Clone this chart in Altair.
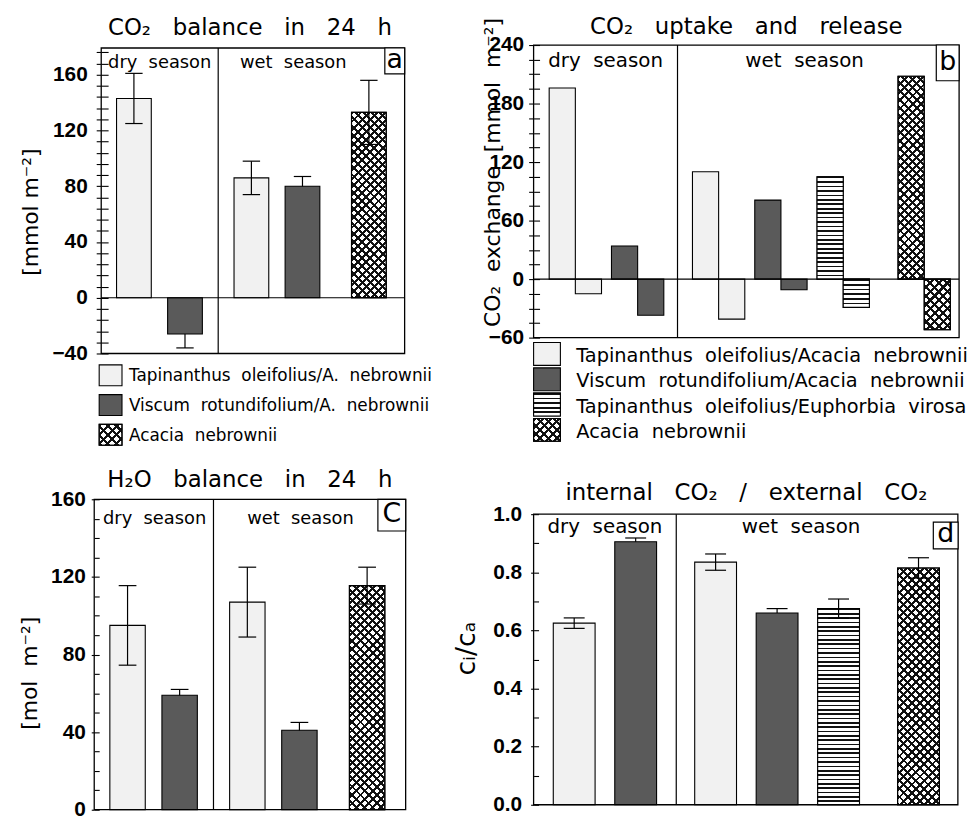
import math
import altair as alt
import pandas as pd

NB = "\u00a0"


def wide(s, n=2):
    return s.replace(" ", NB * n)


# ---------------- data ----------------
SPECIES = ["Tap", "Vis", "Eup", "Aca"]
FILLS = ["#f1f1f1", "#5a5a5a", "#ffffff", "#ffffff"]

LEGEND_A = ["Tapinanthus oleifolius/A. nebrownii",
            "Viscum rotundifolium/A. nebrownii",
            "Acacia nebrownii"]
LEGEND_A_KEYS = ["Tap", "Vis", "Aca"]
LEGEND_B = ["Tapinanthus oleifolius/Acacia nebrownii",
            "Viscum rotundifolium/Acacia nebrownii",
            "Tapinanthus oleifolius/Euphorbia virosa",
            "Acacia nebrownii"]
LEGEND_B_KEYS = ["Tap", "Vis", "Eup", "Aca"]
SEASON_LABELS = ["dry season", "wet season"]

# (a) CO2 balance in 24 h  [mmol m-2]
A_SEASON = ["dry", "dry", "wet", "wet", "wet"]
A_SPECIES = ["Tap", "Vis", "Tap", "Vis", "Aca"]
A_MEAN = [143, -26, 86, 80, 133]
A_ERR = [18, 10, 12, 7, 23]

# (b) CO2 uptake and release [mmol m-2]
B_SEASON = ["dry", "dry", "wet", "wet", "wet", "wet"]
B_SPECIES = ["Tap", "Vis", "Tap", "Vis", "Eup", "Aca"]
B_UPTAKE = [196, 34, 110, 81, 105, 208]
B_RELEASE = [-15, -37, -41, -11, -29, -52]

# (c) H2O balance in 24 h [mol m-2]
C_SEASON = ["dry", "dry", "wet", "wet", "wet"]
C_SPECIES = ["Tap", "Vis", "Tap", "Vis", "Aca"]
C_MEAN = [95, 59, 107, 41, 115.5]
C_ERR = [20.5, 3, 18, 4, 9.5]

# (d) internal CO2 / external CO2
D_SEASON = ["dry", "dry", "wet", "wet", "wet", "wet"]
D_SPECIES = ["Tap", "Vis", "Tap", "Vis", "Eup", "Aca"]
D_MEAN = [0.625, 0.905, 0.835, 0.66, 0.675, 0.815]
D_ERR = [0.018, 0.013, 0.028, 0.015, 0.033, 0.035]

# ---------------- layout / style constants ----------------
SEASON_GAP = 0.3
ACACIA_GAP = 0.3
FONT = "DejaVu Sans"
NUMFONT = "Liberation Sans"
STRIPE_PERIOD = 4.4      # px, horizontal stripes
HATCH_PERIOD = 5.8       # px, cross hatch
FILL_OF = dict(zip(SPECIES, FILLS))


def slots(seasons, species):
    out, pos, prev = [], -1.0, None
    for s, sp in zip(seasons, species):
        pos += 1
        if prev is not None and s != prev:
            pos += SEASON_GAP
        if sp == "Aca":
            pos += ACACIA_GAP
        out.append(pos)
        prev = s
    return out


def frange(a, b, step):
    out, v = [], a
    while v <= b + 1e-9:
        out.append(round(v, 6))
        v += step
    return out


# ---------------- hatch patterns as gradients ----------------
def stops(n, frac, ink, paper):
    out = []
    for i in range(n):
        a, b, c = i / n, (i + frac) / n, (i + 1) / n
        out += [{"offset": round(a, 5), "color": ink}, {"offset": round(b, 5), "color": ink},
                {"offset": round(b, 5), "color": paper}, {"offset": round(c, 5), "color": paper}]
    return out


def hstripes(h):
    n = max(1, int(round(h / STRIPE_PERIOD)))
    return {"gradient": "linear", "x1": 0, "y1": 0, "x2": 0, "y2": 1,
            "stops": stops(n, 0.38, "#111111", "#ffffff")}


def diag(w, h, which):
    c = (w + h) / (w * w + h * h)
    n = max(1, int(round((w + h) / math.sqrt(2) / HATCH_PERIOD)))
    st = stops(n, 0.36, "#111111", "rgba(255,255,255,0)")
    if which == 1:
        return {"gradient": "linear", "x1": 0, "y1": 0, "x2": round(c * w, 5),
                "y2": round(c * h, 5), "stops": st}
    return {"gradient": "linear", "x1": 0, "y1": 1, "x2": round(c * w, 5),
            "y2": round(1 - c * h, 5), "stops": st}


def pattern_layers(base, enc, kind, w, h):
    if kind == "Eup":
        return [base.mark_rect(fill=hstripes(h), stroke="black", strokeWidth=1.1).encode(**enc)]
    if kind == "Aca":
        return [base.mark_rect(fill=diag(w, h, 1), strokeOpacity=0).encode(**enc),
                base.mark_rect(fill=diag(w, h, 2), stroke="black", strokeWidth=1.1).encode(**enc)]
    return []


# ---------------- axes ----------------
def main_axis(values, major, title, tick, pad, tx, ty, offset=0, fmt=None, tfs=22):
    kw = {}
    if fmt:
        kw["format"] = fmt
    return alt.Axis(orient="left", values=values, offset=offset,
                    labelExpr=f"abs(datum.value / {major} - round(datum.value / {major})) < 1e-6 ? datum.label : ''",
                    tickSize=tick, tickColor="black", tickWidth=1.1,
                    labelPadding=pad, labelFont=NUMFONT, labelFontWeight="bold",
                    labelFontSize=21, labelColor="black", labelFlush=False,
                    labelOverlap=False, domain=False, grid=False,
                    title=title, titleFont=FONT, titleFontSize=tfs,
                    titleFontWeight="normal", titleColor="black",
                    titleX=tx, titleY=ty, titleAlign="center", titleBaseline="middle",
                    titleAngle=270, **kw)


def inner_axis(values, pos, tick):
    # right-oriented axis pulled back onto the left frame line -> inward ticks
    return alt.Axis(orient="right", offset=pos, values=values, labels=False,
                    tickSize=tick, tickColor="black", tickWidth=1.1,
                    domain=False, grid=False, title=None)


def scales(spec):
    ys = alt.Scale(domain=spec["ydom"], nice=False, zero=False)
    xs = alt.Scale(domain=spec["xdom"], nice=False, zero=False)

    def X(f):
        return alt.X(f, type="quantitative", scale=xs, axis=None)

    def Y(f, axis=None):
        return alt.Y(f, type="quantitative", scale=ys, axis=axis)
    ppx = spec["W"] / (spec["xdom"][1] - spec["xdom"][0])
    ppy = spec["H"] / (spec["ydom"][1] - spec["ydom"][0])
    return X, Y, ppx, ppy


def fill_enc():
    return alt.Fill("species:N", scale=alt.Scale(domain=SPECIES, range=FILLS), legend=None)


def decorations(spec, X, Y):
    layers = []
    fx0, fx1, fy0, fy1 = spec["frame"]
    frame = alt.Chart(pd.DataFrame({"x0": [fx0], "x1": [fx1], "y0": [fy0], "y1": [fy1]})).mark_rect(
        fillOpacity=0, stroke="black", strokeWidth=1.3).encode(
        x=X("x0"), x2="x1", y=Y("y0"), y2="y1")
    div = alt.Chart(pd.DataFrame({"d": [spec["div"]], "y0": [fy0], "y1": [fy1]})).mark_rule(
        color="black", strokeWidth=1.2).encode(x=X("d"), y=Y("y0"), y2="y1")
    layers += [frame, div]
    seas = alt.Chart(pd.DataFrame({"t": [wide(s) for s in SEASON_LABELS],
                                   "x": [spec["dry_x"], spec["wet_x"]]})).mark_text(
        font=FONT, fontSize=spec["season_fs"], baseline="middle", align="center",
        color="black").encode(x=X("x"), y=alt.value(spec["season_y"]), text="t:N")
    layers.append(seas)
    bx0, bx1, by0, by1 = spec["box"]
    letter = pd.DataFrame({"t": [spec["letter"]]})
    box = alt.Chart(letter).mark_rect(fill="white", stroke="black", strokeWidth=1.2).encode(
        x=alt.value(bx0), x2=alt.value(bx1), y=alt.value(by0), y2=alt.value(by1))
    txt = alt.Chart(letter).mark_text(font=FONT, fontSize=27, baseline="middle",
                                      align="center", color="black", dy=-1).encode(
        x=alt.value((bx0 + bx1) / 2), y=alt.value((by0 + by1) / 2), text="t:N")
    layers += [box, txt]
    if spec.get("legend"):
        layers += legend_layers(*spec["legend"])
    return layers


def legend_layers(keys, labels, x0, sw, sh, top, step, tx, fs, tdy):
    rows = []
    for i, (k, l) in enumerate(zip(keys, labels)):
        yc = top + i * step
        rows.append({"species": k, "label": wide(l), "y0": yc - sh / 2, "y1": yc + sh / 2,
                     "yt": yc + tdy})
    df = pd.DataFrame(rows)
    base = alt.Chart(df)
    enc = dict(x=alt.value(x0), x2=alt.value(x0 + sw),
               y=alt.Y("y0:Q", scale=None, axis=None), y2="y1")
    out = [base.mark_rect(stroke="black", strokeWidth=1.1).encode(fill=fill_enc(), **enc)]
    for k in keys:
        out += pattern_layers(base.transform_filter(alt.datum.species == k), enc, k, sw, sh)
    out.append(base.mark_text(font=FONT, fontSize=fs, align="left", baseline="middle",
                              color="black").encode(
        x=alt.value(tx), y=alt.Y("yt:Q", scale=None, axis=None), text="label:N"))
    return out


def title_params(text, offset):
    return alt.TitleParams(text=text, font=FONT, fontSize=23, fontWeight="normal",
                           color="black", offset=offset, anchor="middle")


def bar_panel(seasons, species, values, errs, spec, half=0.34, cap=0.17):
    rows = []
    for s, sp, x, v, e in zip(seasons, species, slots(seasons, species), values, errs):
        rows.append({"season": s, "species": sp, "slot": x,
                     "x0": x - half, "x1": x + half, "value": v,
                     "lo": v - e, "hi": v + e, "c0": x - cap, "c1": x + cap})
    df = pd.DataFrame(rows)
    X, Y, ppx, ppy = scales(spec)
    base = alt.Chart(df)
    light = base.transform_filter(alt.datum.species != "Vis").mark_bar(
        stroke="black", strokeWidth=1.1).encode(
        x=X("x0"), x2="x1", y=Y("value", spec["axis"]), y2=alt.Y2Datum(0), fill=fill_enc())
    layers = [light]
    enc = dict(x=X("x0"), x2="x1", y=Y("value"), y2=alt.Y2Datum(0))
    for r in rows:
        sel = base.transform_filter((alt.datum.season == r["season"]) & (alt.datum.species == r["species"]))
        layers += pattern_layers(sel, enc, r["species"], 2 * half * ppx, abs(r["value"]) * ppy)
    err = base.mark_rule(color="black", strokeWidth=1.2).encode(x=X("slot"), y=Y("lo"), y2="hi")
    capt = base.mark_rule(color="black", strokeWidth=1.2).encode(x=X("c0"), x2="c1", y=Y("hi"))
    capb = base.mark_rule(color="black", strokeWidth=1.2).encode(x=X("c0"), x2="c1", y=Y("lo"))
    dark = base.transform_filter(alt.datum.species == "Vis").mark_bar(
        stroke="black", strokeWidth=1.1).encode(
        x=X("x0"), x2="x1", y=Y("value"), y2=alt.Y2Datum(0), fill=fill_enc())
    inward = base.mark_point(opacity=0).encode(x=X("slot"), y=Y("value", spec["inner"]))
    layers += [err, capt, capb, dark, inward]
    if spec.get("zero"):
        fx0, fx1 = spec["frame"][0], spec["frame"][1]
        layers.append(alt.Chart(pd.DataFrame({"z": [0], "x0": [fx0], "x1": [fx1]})).mark_rule(
            color="black", strokeWidth=1.1).encode(y=Y("z"), x=X("x0"), x2="x1"))
    layers += decorations(spec, X, Y)
    return alt.layer(*layers).resolve_axis(y="independent").properties(
        width=spec["W"], height=spec["H"], title=title_params(spec["title"], spec["toff"]))


def pair_panel(seasons, species, up, rel, spec, half=0.42):
    rows = []
    for s, sp, x, u, r in zip(seasons, species, slots(seasons, species), up, rel):
        rows.append({"season": s, "species": sp, "slot": x,
                     "ux0": x - half, "ux1": x, "rx0": x, "rx1": x + half,
                     "up": u, "rel": r})
    df = pd.DataFrame(rows)
    X, Y, ppx, ppy = scales(spec)
    base = alt.Chart(df)
    upb = base.mark_bar(stroke="black", strokeWidth=1.1).encode(
        x=X("ux0"), x2="ux1", y=Y("up", spec["axis"]), y2=alt.Y2Datum(0), fill=fill_enc())
    relb = base.mark_bar(stroke="black", strokeWidth=1.1).encode(
        x=X("rx0"), x2="rx1", y=Y("rel"), y2=alt.Y2Datum(0), fill=fill_enc())
    layers = [upb, relb]
    enc_u = dict(x=X("ux0"), x2="ux1", y=Y("up"), y2=alt.Y2Datum(0))
    enc_r = dict(x=X("rx0"), x2="rx1", y=Y("rel"), y2=alt.Y2Datum(0))
    for r in rows:
        sel = base.transform_filter((alt.datum.season == r["season"]) & (alt.datum.species == r["species"]))
        layers += pattern_layers(sel, enc_u, r["species"], half * ppx, abs(r["up"]) * ppy)
        layers += pattern_layers(sel, enc_r, r["species"], half * ppx, abs(r["rel"]) * ppy)
    inward = base.mark_point(opacity=0).encode(x=X("slot"), y=Y("up", spec["inner"]))
    fx0, fx1 = spec["frame"][0], spec["frame"][1]
    zero = alt.Chart(pd.DataFrame({"z": [0], "x0": [fx0], "x1": [fx1]})).mark_rule(
        color="black", strokeWidth=1.1).encode(y=Y("z"), x=X("x0"), x2="x1")
    layers += [inward, zero] + decorations(spec, X, Y)
    return alt.layer(*layers).resolve_axis(y="independent").properties(
        width=spec["W"], height=spec["H"], title=title_params(spec["title"], spec["toff"]))


# ---------- panel a ----------  (plot area 92..406 x 42..353, frame from x=99, y=45)
a_ticks = frange(-40, 176, 8)
spec_a = dict(W=314, H=311, ydom=[-40, 181.33], xdom=[-0.777, 5.32],
              frame=(-0.64, 5.30, -40, 179.2), div=1.65,
              dry_x=0.505, wet_x=3.12, season_y=18, season_fs=18,
              box=(293, 313, 3, 29), letter="a", toff=2,
              title=wide("CO₂ balance in 24 h", 3),
              legend=(LEGEND_A_KEYS, LEGEND_A, 5, 23, 21, 333, 30, 35, 17, 1),
              axis=main_axis(a_ticks, 40, wide("[mmol m⁻²]", 1), 5, 9, -71, 168, offset=-7),
              inner=inner_axis(a_ticks, 7 - 314, 7), zero=True)
chart_a = bar_panel(A_SEASON, A_SPECIES, A_MEAN, A_ERR, spec_a)

# ---------- panel b ----------  (plot area 535..964 x 42..337)
b_ticks = frange(-60, 240, 15)
spec_b = dict(W=429, H=295, ydom=[-60, 240], xdom=[-0.67, 6.16],
              frame=(-0.67, 6.16, -60, 240), div=1.64,
              dry_x=0.485, wet_x=3.68, season_y=16, season_fs=20,
              box=(406, 429, 0, 36), letter="b", toff=-22,
              title=wide("CO₂ uptake and release", 3),
              legend=(LEGEND_B_KEYS, LEGEND_B, 0, 27, 23, 311.5, 25.5, 43, 19.5, 2),
              axis=main_axis(b_ticks, 60, wide("CO₂ exchange [mmol m⁻²]", 2), 5, 5, -41, 128),
              inner=inner_axis(b_ticks, -429, 6))
chart_b = pair_panel(B_SEASON, B_SPECIES, B_UPTAKE, B_RELEASE, spec_b)

# ---------- panel c ----------  (plot area 92..406 x 500..813)
c_major = frange(0, 160, 40)
c_minor = frange(0, 160, 10)
spec_c = dict(W=314, H=313, ydom=[0, 160], xdom=[-0.64, 5.34],
              frame=(-0.64, 5.34, 0, 160), div=1.65,
              dry_x=0.52, wet_x=3.32, season_y=20, season_fs=18,
              box=(286, 314, 0, 32), letter="C", toff=-4,
              title=wide("H₂O balance in 24 h", 3),
              axis=main_axis(c_major, 40, wide("[mol m⁻²]", 2), 3, 6, -65, 175),
              inner=inner_axis(c_minor, -314, 5))
chart_c = bar_panel(C_SEASON, C_SPECIES, C_MEAN, C_ERR, spec_c)

# ---------- panel d ----------  (plot area 535..964 x 500..808, frame top at y=515)
d_major = frange(0, 1, 0.2)
d_minor = frange(0, 1, 0.1)
spec_d = dict(W=429, H=308, ydom=[0, 1.0512], xdom=[-0.66, 6.26],
              frame=(-0.66, 6.24, 0, 1.0), div=1.66,
              dry_x=0.5, wet_x=3.69, season_y=28, season_fs=20,
              box=(403, 428, 23, 50), letter="d", toff=-6,
              title=wide("internal CO₂ / external CO₂", 3),
              axis=main_axis(d_major, 0.2, "cᵢ/cₐ", 3, 9, -68, 150, fmt=".1f", tfs=27),
              inner=inner_axis(d_minor, -429, 5))
chart_d = bar_panel(D_SEASON, D_SPECIES, D_MEAN, D_ERR, spec_d)

# ---------- layout ----------
chart = alt.concat(chart_a, chart_b, chart_c, chart_d, columns=2,
                   spacing={"row": 147, "column": 129}, bounds="flush").resolve_scale(
    fill="independent").configure_view(
    strokeOpacity=0).properties(
    padding={"left": 19, "top": 13, "right": 2, "bottom": 2}, background="white")

chart.save("out.html", embed_options={"renderer": "svg", "actions": False})
